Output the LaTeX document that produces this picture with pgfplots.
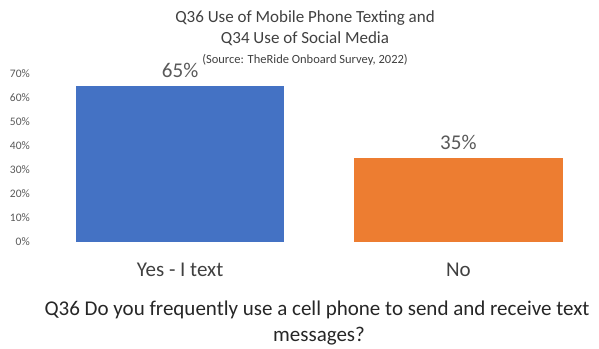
\documentclass[border=0pt]{standalone}
\usepackage{fontspec}
\setmainfont{Carlito}
\usepackage{pgfplots}
\pgfplotsset{compat=1.18}
\definecolor{xblue}{HTML}{4472C4}
\definecolor{xorange}{HTML}{ED7D31}
\definecolor{tgray}{HTML}{595959}
\definecolor{dgray}{HTML}{404040}
\begin{document}
\begin{tikzpicture}
\path[use as bounding box] (-41bp,-107bp) rectangle (558bp,242bp);
\begin{axis}[
  at={(0,0)}, anchor=south west,
  scale only axis,
  width=556.5bp, height=168bp,
  xmin=-0.5, xmax=1.5, ymin=0, ymax=70,
  clip=false,
  axis line style={draw=none},
  tick style={draw=none},
  /pgf/number format/assume math mode=true,
  ytick={0,10,...,70},
  yticklabel={\pgfmathprintnumber{\tick}\%},
  yticklabel style={font=\fontsize{11.5bp}{13bp}\selectfont, text=tgray, anchor=east, inner sep=0pt, xshift=-11bp},
  xtick={0,1},
  xticklabels={Yes - I text, No},
  xticklabel style={font=\fontsize{21bp}{25bp}\selectfont, text=dgray, anchor=base, inner sep=0pt, yshift=-34.7bp},
  nodes near coords={\pgfmathprintnumber{\pgfplotspointmeta}\%},
  nodes near coords style={font=\fontsize{21bp}{25bp}\selectfont, text=tgray, anchor=base, inner sep=0pt, yshift=8.5bp},
]
\addplot[ybar, bar width=0.75, fill=xblue, draw=none] coordinates {(0,65)};
\addplot[ybar, bar width=0.75, fill=xorange, draw=none] coordinates {(1,35)};
\end{axis}
\node[anchor=base, text=dgray, font=\fontsize{17bp}{20bp}\selectfont] at (264bp,219.3bp) {Q36 Use of Mobile Phone Texting and};
\node[anchor=base, text=dgray, font=\fontsize{17bp}{20bp}\selectfont] at (264bp,198.7bp) {Q34 Use of Social Media};
\node[anchor=base, text=dgray, font=\fontsize{12.5bp}{15bp}\selectfont] at (264bp,178.7bp) {(Source: TheRide Onboard Survey, 2022)};
\node[anchor=base, text=black!85, font=\fontsize{21bp}{25bp}\selectfont] at (276bp,-73bp) {Q36 Do you frequently use a cell phone to send and receive text};
\node[anchor=base, text=black!85, font=\fontsize{21bp}{25bp}\selectfont] at (278bp,-99bp) {messages?};
\end{tikzpicture}
\end{document}
